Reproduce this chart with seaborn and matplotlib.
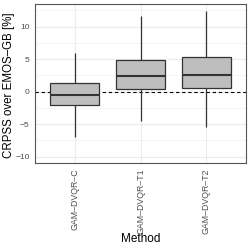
import numpy as np
import pandas as pd
import seaborn as sns
import matplotlib.pyplot as plt
from matplotlib.ticker import MultipleLocator

# methods compared against EMOS-GB
methods = ["GAM–DVQR–C", "GAM–DVQR–T1", "GAM–DVQR–T2"]
# five-number summaries: min, q1, median, q3, max
crpss_c = [-7.0, -2.1, -0.45, 1.3, 5.9]
crpss_t1 = [-4.5, 0.4, 2.4, 4.85, 11.65]
crpss_t2 = [-5.5, 0.55, 2.6, 5.3, 12.4]

df = pd.DataFrame({"Method": np.repeat(methods, 5),
                   "CRPSS": crpss_c + crpss_t1 + crpss_t2})

sns.set_style("whitegrid")
plt.rcParams["font.family"] = ["Liberation Sans", "DejaVu Sans"]

fig = plt.figure(figsize=(2.5, 2.5), dpi=100)
ax = fig.add_axes([0.14, 0.348, 0.844, 0.636])

# zero reference line, under the boxes
ax.axhline(0, color="black", lw=0.8, ls=(0, (3, 2.5)), zorder=1.5)

sns.boxplot(data=df, x="Method", y="CRPSS", order=methods, whis=(0, 100),
            width=0.75, color="#bebebe", saturation=1, linecolor="#333333",
            linewidth=0.9, medianprops=dict(linewidth=1.5), showcaps=False,
            ax=ax, zorder=2)

ax.set_xlim(-0.6, 2.6)
ax.set_ylim(-11.0, 13.5)
ax.yaxis.set_major_locator(MultipleLocator(5))
ax.yaxis.set_minor_locator(MultipleLocator(2.5))
ax.set_axisbelow(True)
ax.grid(which="major", color="#ebebeb", lw=0.8)
ax.grid(which="minor", axis="y", color="#f2f2f2", lw=0.5)

for s in ax.spines.values():
    s.set_color("#555555")
    s.set_linewidth(0.8)

ax.tick_params(axis="both", which="major", length=2.5, width=0.6,
               color="#333333", labelcolor="#4d4d4d", pad=1.5)
ax.tick_params(axis="x", labelsize=6.3)
ax.tick_params(axis="y", labelsize=6)
ax.tick_params(axis="both", which="minor", length=0)
ax.set_yticks([-10, -5, 0, 5, 10])
ax.set_yticklabels(["−10", "−5", "0", "5", "10"])
plt.setp(ax.get_xticklabels(), rotation=90)

ax.set_xlabel("Method", fontsize=8.5, color="black")
ax.set_ylabel("CRPSS over EMOS–GB [%]", fontsize=8.3, color="black")
ax.xaxis.set_label_coords(0.5, -0.44)
ax.yaxis.set_label_coords(-0.094, 0.49)

fig.savefig("out.png", dpi=100)
